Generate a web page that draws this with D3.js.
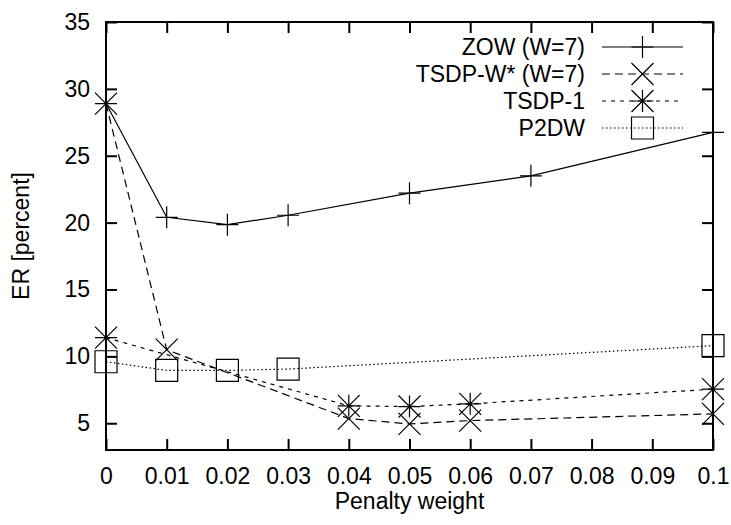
<!DOCTYPE html>
<html>
<head>
<meta charset="utf-8">
<script src="https://cdn.jsdelivr.net/npm/d3@7"></script>
<style>
  body { margin: 0; background: #fff; }
  svg text { font-family: "Liberation Sans", Arial, sans-serif; font-size: 23px; fill: #000; }
</style>
</head>
<body>
<div class="chart"></div>
<script>
// tick values
const xTicks = [0, 0.01, 0.02, 0.03, 0.04, 0.05, 0.06, 0.07, 0.08, 0.09, 0.1];
const yTicks = [5, 10, 15, 20, 25, 30, 35];

// series
const zowX = [0, 0.01, 0.02, 0.03, 0.05, 0.07, 0.1];
const zowY = [28.9, 20.4, 19.85, 20.55, 22.2, 23.5, 26.75];

const tsdpWX = [0, 0.01, 0.04, 0.05, 0.06, 0.1];
const tsdpWY = [28.9, 10.5, 5.35, 4.95, 5.2, 5.7];

const tsdp1X = [0, 0.04, 0.05, 0.06, 0.1];
const tsdp1Y = [11.4, 6.3, 6.25, 6.45, 7.55];

const p2dwX = [0, 0.01, 0.02, 0.03, 0.1];
const p2dwY = [9.6, 8.95, 8.95, 9.05, 10.8];

const seriesNames = ["ZOW (W=7)", "TSDP-W* (W=7)", "TSDP-1", "P2DW"];

// build series list
let series = [
    { name: seriesNames[0], xs: zowX, ys: zowY, dash: null, marker: "plus" },
    { name: seriesNames[1], xs: tsdpWX, ys: tsdpWY, dash: "8,5", marker: "cross" },
    { name: seriesNames[2], xs: tsdp1X, ys: tsdp1Y, dash: "4,5", marker: "star" },
    { name: seriesNames[3], xs: p2dwX, ys: p2dwY, dash: "1.5,2.5", marker: "box" }
];

let width = 731, height = 525;
let margin = { top: 22, right: 18, bottom: 75, left: 106 };

let svg = d3.select(".chart")
    .append("svg")
    .attr("width", width)
    .attr("height", height);

// scales
let xScale = d3.scaleLinear()
    .domain([0, 0.1])
    .range([margin.left, width - margin.right]);

let yScale = d3.scaleLinear()
    .domain([3, 35])
    .range([height - margin.bottom, margin.top]);

let tickLen = 11;

// bottom axis, ticks pointing inward
svg.append("g")
    .attr("transform", "translate(0," + yScale(3) + ")")
    .call(d3.axisBottom(xScale).tickValues(xTicks).tickSize(-tickLen).tickPadding(18)
        .tickFormat(d => d3.format("~g")(d)))
    .call(g => g.select(".domain").remove())
    .call(g => g.selectAll("line").attr("stroke", "#000").attr("stroke-width", 2))
    .call(g => g.selectAll("text").style("font-size", "23px").attr("fill", "#000").attr("dy", "0.71em"));

// top axis ticks (mirror)
svg.append("g")
    .attr("transform", "translate(0," + yScale(35) + ")")
    .call(d3.axisTop(xScale).tickValues(xTicks).tickSize(-tickLen).tickFormat(""))
    .call(g => g.select(".domain").remove())
    .call(g => g.selectAll("line").attr("stroke", "#000").attr("stroke-width", 2));

// left axis
svg.append("g")
    .attr("transform", "translate(" + xScale(0) + ",0)")
    .call(d3.axisLeft(yScale).tickValues(yTicks).tickSize(-tickLen).tickPadding(16))
    .call(g => g.select(".domain").remove())
    .call(g => g.selectAll("line").attr("stroke", "#000").attr("stroke-width", 2))
    .call(g => g.selectAll("text").style("font-size", "23px").attr("fill", "#000"));

// right axis ticks (mirror)
svg.append("g")
    .attr("transform", "translate(" + xScale(0.1) + ",0)")
    .call(d3.axisRight(yScale).tickValues(yTicks).tickSize(-tickLen).tickFormat(""))
    .call(g => g.select(".domain").remove())
    .call(g => g.selectAll("line").attr("stroke", "#000").attr("stroke-width", 2));

// frame
svg.append("rect")
    .attr("x", xScale(0))
    .attr("y", yScale(35))
    .attr("width", xScale(0.1) - xScale(0))
    .attr("height", yScale(3) - yScale(35))
    .attr("fill", "none")
    .attr("stroke", "#000")
    .attr("stroke-width", 2);

// axis titles
svg.append("text")
    .attr("x", (xScale(0) + xScale(0.1)) / 2)
    .attr("y", 509)
    .attr("text-anchor", "middle")
    .text("Penalty weight");

svg.append("text")
    .attr("transform", "translate(29," + (yScale(3) + yScale(35)) / 2 + ") rotate(-90)")
    .attr("text-anchor", "middle")
    .text("ER [percent]");

// marker drawing
let ms = 11;
function drawMarker(g, type, cx, cy) {
    let p;
    if (type === "plus") {
        p = "M" + (cx - ms) + "," + cy + "H" + (cx + ms) + "M" + cx + "," + (cy - ms) + "V" + (cy + ms);
    } else if (type === "cross") {
        p = "M" + (cx - ms) + "," + (cy - ms) + "L" + (cx + ms) + "," + (cy + ms) +
            "M" + (cx - ms) + "," + (cy + ms) + "L" + (cx + ms) + "," + (cy - ms);
    } else if (type === "star") {
        p = "M" + (cx - ms) + "," + cy + "H" + (cx + ms) + "M" + cx + "," + (cy - ms) + "V" + (cy + ms) +
            "M" + (cx - ms) + "," + (cy - ms) + "L" + (cx + ms) + "," + (cy + ms) +
            "M" + (cx - ms) + "," + (cy + ms) + "L" + (cx + ms) + "," + (cy - ms);
    } else {
        p = "M" + (cx - ms) + "," + (cy - ms) + "H" + (cx + ms) + "V" + (cy + ms) + "H" + (cx - ms) + "Z";
    }
    g.append("path")
        .attr("d", p)
        .attr("fill", "none")
        .attr("stroke", "#000")
        .attr("stroke-width", 1.2);
}

// lines
let line = d3.line()
    .x(d => xScale(d.x))
    .y(d => yScale(d.y));

series.forEach(s => {
    let pts = s.xs.map((x, i) => ({ x: x, y: s.ys[i] }));
    svg.append("path")
        .datum(pts)
        .attr("d", line)
        .attr("fill", "none")
        .attr("stroke", "#000")
        .attr("stroke-width", 1.2)
        .attr("stroke-dasharray", s.dash);
    let mg = svg.append("g");
    pts.forEach(d => drawMarker(mg, s.marker, xScale(d.x), yScale(d.y)));
});

// legend
let legendTextX = 585, sampleX0 = 602, sampleX1 = 683, legendY0 = 47, legendStep = 27;
series.forEach((s, i) => {
    let y = legendY0 + i * legendStep;
    svg.append("text")
        .attr("x", legendTextX)
        .attr("y", y)
        .attr("dy", "0.35em")
        .attr("text-anchor", "end")
        .text(s.name);
    svg.append("line")
        .attr("x1", sampleX0).attr("x2", sampleX1)
        .attr("y1", y).attr("y2", y)
        .attr("stroke", "#000")
        .attr("stroke-width", 1.2)
        .attr("stroke-dasharray", s.dash);
    drawMarker(svg, s.marker, (sampleX0 + sampleX1) / 2, y);
});
</script>
</body>
</html>
